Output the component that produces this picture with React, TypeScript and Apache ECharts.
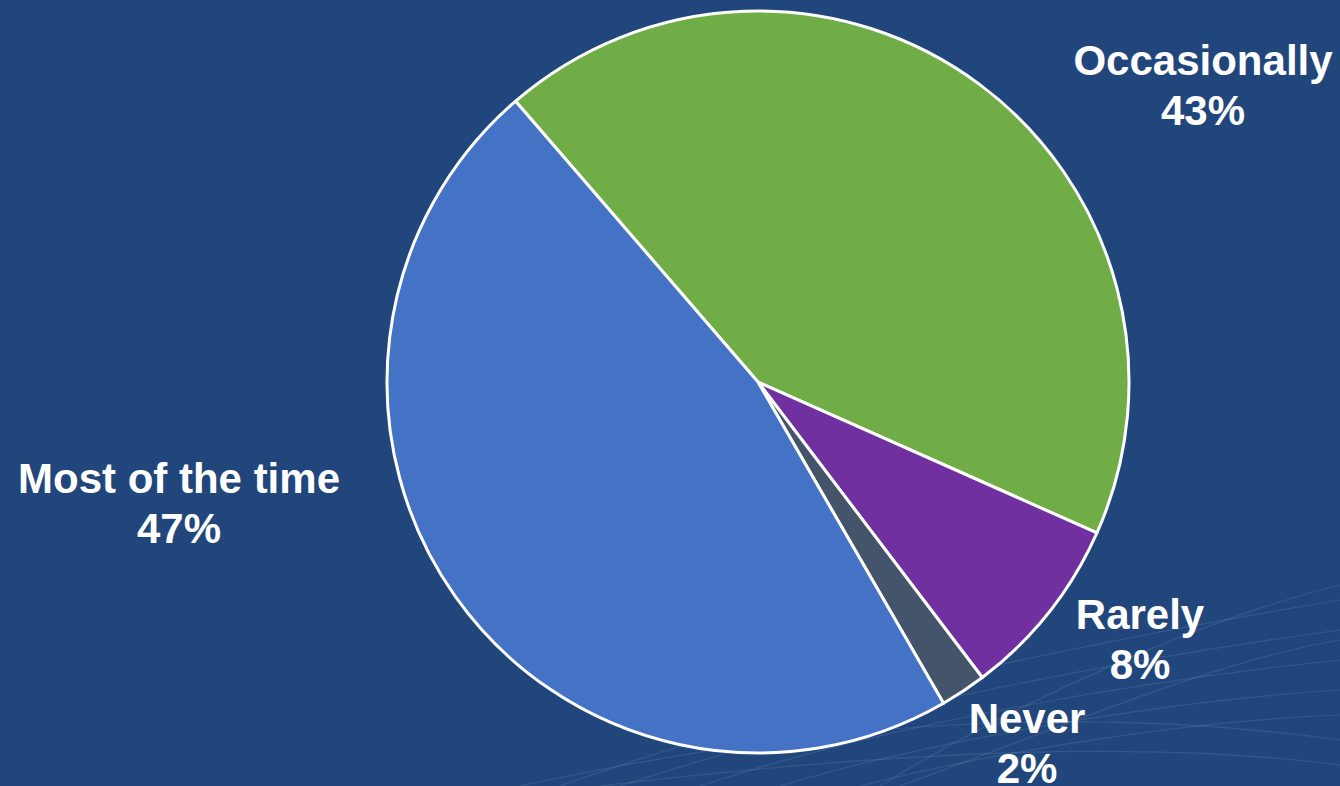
import React, { useEffect, useRef } from "react";
import * as echarts from "echarts";

const categories = ["Occasionally", "Rarely", "Never", "Most of the time"];
const values = [43, 8, 2, 47];
const colors = ["#70AD47", "#7030A0", "#44546A", "#4472C4"];
const labelCenters: [number, number][] = [
  [1203, 85],
  [1140, 639],
  [1027, 743],
  [179, 503],
];

export default function App() {
  const ref = useRef<HTMLDivElement>(null);
  useEffect(() => {
    if (!ref.current) return;
    const chart = echarts.init(ref.current, undefined, { renderer: "svg" });
    const curves: any[] = [];
    const curveDefs = [
      [560, 786, 800, 700, 1100, 640, 1340, 600],
      [620, 786, 850, 710, 1120, 660, 1340, 630],
      [700, 786, 900, 720, 1150, 680, 1340, 660],
      [780, 786, 950, 735, 1180, 700, 1340, 690],
      [860, 786, 1000, 750, 1200, 720, 1340, 715],
      [520, 786, 780, 730, 1050, 700, 1340, 740],
      [600, 786, 900, 750, 1150, 740, 1340, 765],
      [880, 786, 1020, 700, 1200, 620, 1340, 585],
      [900, 786, 1080, 720, 1220, 660, 1340, 640],
    ];
    curveDefs.forEach((c) => {
      curves.push({
        type: "bezierCurve",
        silent: true,
        z: -1,
        shape: { x1: c[0], y1: c[1], cpx1: c[2], cpy1: c[3], cpx2: c[4], cpy2: c[5], x2: c[6], y2: c[7] },
        style: { stroke: "rgba(190,205,235,0.13)", lineWidth: 1.2, fill: null },
      });
    });
    chart.setOption({
      animation: false,
      backgroundColor: "#21467C",
      graphic: curves,
      series: [
        {
          type: "pie",
          center: [758, 382],
          radius: 371,
          startAngle: 130.8,
          clockwise: true,
          silent: true,
          itemStyle: { borderColor: "#ffffff", borderWidth: 3 },
          labelLine: { show: false },
          label: {
            show: true,
            position: "outside",
            formatter: (p: any) => `${p.name}\n${p.value}%`,
            color: "#ffffff",
            fontFamily: "Liberation Sans, Arial, sans-serif",
            fontWeight: "bold",
            fontSize: 42,
            lineHeight: 50,
            align: "center",
          },
          labelLayout: (params: any) => {
            const c = labelCenters[params.dataIndex];
            return { x: c[0], y: c[1], align: "center", verticalAlign: "middle" };
          },
          data: categories.map((name, i) => ({
            name,
            value: values[i],
            itemStyle: { color: colors[i] },
          })),
        },
      ],
    });
    return () => chart.dispose();
  }, []);
  return (
    <div
      ref={ref}
      style={{ position: "fixed", left: 0, top: 0, width: 1340, height: 786 }}
    />
  );
}
